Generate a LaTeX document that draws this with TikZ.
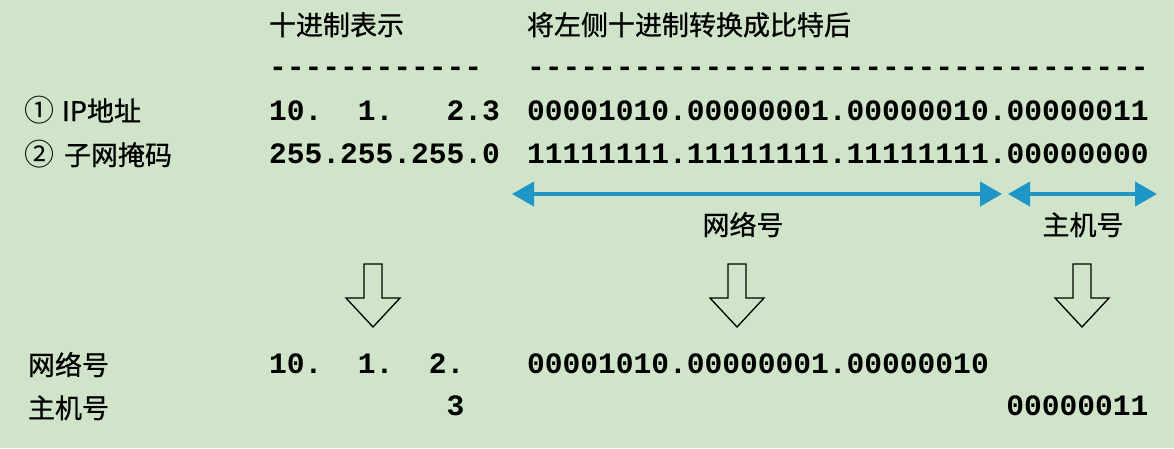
\documentclass[tikz,border=0pt]{standalone}
\usepackage{fontspec}
\setmonofont{Liberation Mono}
\newfontfamily\cjk[AutoFakeBold=0.8]{Noto Sans CJK SC}
\usetikzlibrary{arrows.meta}
\definecolor{bgc}{RGB}{207,228,200}
\definecolor{bluec}{RGB}{30,150,198}
\tikzset{
  mono/.style={inner sep=0pt,outer sep=0pt,anchor=base west,font=\fontsize{29.6}{30}\selectfont\ttfamily\bfseries},
  cjkt/.style={inner sep=0pt,outer sep=0pt,anchor=base west,font=\fontsize{27}{28}\selectfont\cjk\bfseries},
  cjkc/.style={inner sep=0pt,outer sep=0pt,anchor=base,font=\fontsize{27}{28}\selectfont\cjk\bfseries},
  circ/.style={inner sep=0pt,outer sep=0pt,anchor=base west,font=\fontsize{30}{31}\selectfont\cjk},
  spanarrow/.style={draw=bluec,line width=4pt,{Triangle[length=22pt,width=24pt]}-{Triangle[length=22pt,width=24pt]}},
  hollowarrow/.style={draw=black,line width=1.3pt,fill=none,line join=miter}
}
\begin{document}
\begin{tikzpicture}[x=1pt,y=-1pt]
\fill[bgc] (0,0) rectangle (1174,448);
\useasboundingbox (0,0) rectangle (1174,448);
% headers
\node[cjkt] (h1) at (269,35) {十进制表示};
\node[cjkt] (h2) at (527,35) {将左侧十进制转换成比特后};
\node[mono] (d1) at (269,76) {------------};
\node[mono] (d2) at (527,76) {-----------------------------------};
% row labels
\node[circ] (c1) at (24,121) {①};
\node[cjkt] (l1) at (62,121) {IP地址};
\node[circ] (c2) at (24,165) {②};
\node[cjkt] (l2) at (64,165) {子网掩码};
% values
\node[mono] (v1) at (269,120) {10.~~1.~~~2.3};
\node[mono] (v2) at (269,163) {255.255.255.0};
\node[mono] (b1) at (527,120) {00001010.00000001.00000010.00000011};
\node[mono] (b2) at (527,163) {11111111.11111111.11111111.00000000};
% span arrows
\coordinate (na) at (512,194);
\coordinate (nb) at (1002,194);
\coordinate (ha) at (1008,194);
\coordinate (hb) at (1157,194);
\draw[spanarrow] (na) -- (nb);
\draw[spanarrow] (ha) -- (hb);
\node[cjkc] (nl) at (743,235) {网络号};
\node[cjkc] (hl) at (1083,235) {主机号};
% hollow down arrows
\foreach \cx/\nm in {373/a1,737/a2,1082/a3}{
  \coordinate (\nm) at (\cx,264);
  \draw[hollowarrow] (\cx-9,264) -- (\cx+9,264) -- (\cx+9,298) -- (\cx+27,298) -- (\cx,327) -- (\cx-27,298) -- (\cx-9,298) -- cycle;
}
% results
\node[cjkt] (r1) at (28,375) {网络号};
\node[cjkt] (r2) at (28,418) {主机号};
\node[mono] (n1) at (269,373) {10.~~1.~~2.};
\node[mono] (n2) at (527,373) {00001010.00000001.00000010};
\node[mono] (m1) at (269,415) {~~~~~~~~~~3};
\node[mono] (m2) at (1006.25,415) {00000011};
\end{tikzpicture}
\end{document}
